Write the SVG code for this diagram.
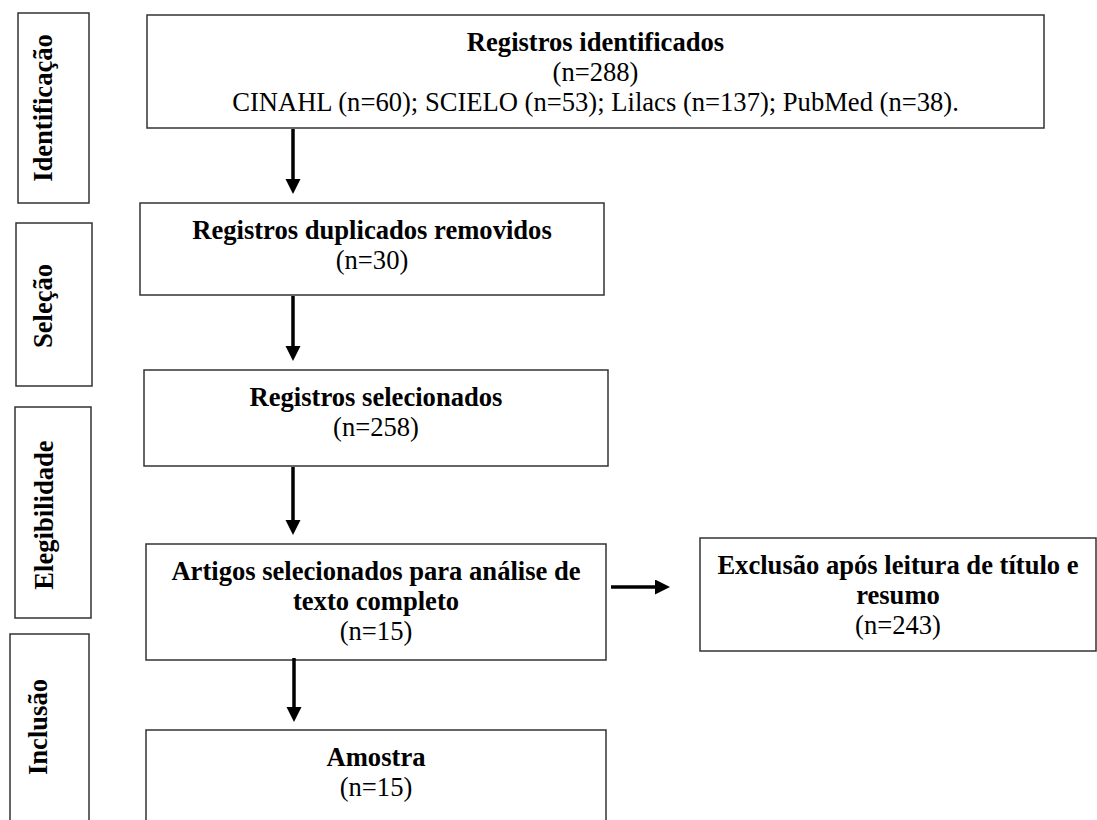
<svg xmlns="http://www.w3.org/2000/svg" width="1097" height="820" viewBox="0 0 1097 820">
<style>
.box{fill:#fff;stroke:#333;stroke-width:1.5}
.t{font-family:"Liberation Serif","Times New Roman",serif;font-size:26.6px;fill:#000;text-anchor:middle}
.b{font-weight:bold}
.c{stroke:#000;stroke-width:3.5;fill:none}
</style>
<defs>
<marker id="ah" markerUnits="userSpaceOnUse" markerWidth="16" markerHeight="16" refX="0" refY="7.5" orient="auto">
<path d="M0,0 L15,7.5 L0,15 Z" fill="#000"/>
</marker>
</defs>
<rect width="1097" height="820" fill="#fff"/>
<g id="phase-identificacao">
<rect class="box" x="18" y="13" width="71" height="190"/>
<text class="t b" transform="translate(52,108) rotate(-90)">Identificação</text>
</g>
<g id="phase-selecao">
<rect class="box" x="16" y="223" width="76" height="163"/>
<text class="t b" transform="translate(52,306) rotate(-90)">Seleção</text>
</g>
<g id="phase-elegibilidade">
<rect class="box" x="15" y="407" width="76" height="211"/>
<text class="t b" transform="translate(53,515) rotate(-90)">Elegibilidade</text>
</g>
<g id="phase-inclusao">
<rect class="box" x="10" y="634" width="79" height="200"/>
<text class="t b" transform="translate(47,727) rotate(-90)">Inclusão</text>
</g>
<g id="n-identificados">
<rect class="box" x="147" y="15" width="897" height="113"/>
<text class="t b" x="595.5" y="51">Registros identificados</text>
<text class="t" x="595.5" y="81">(n=288)</text>
<text class="t" x="595.5" y="111">CINAHL (n=60); SCIELO (n=53); Lilacs (n=137); PubMed (n=38).</text>
</g>
<g id="n-duplicados">
<rect class="box" x="140" y="203" width="464" height="92"/>
<text class="t b" x="372" y="239">Registros duplicados removidos</text>
<text class="t" x="372" y="269">(n=30)</text>
</g>
<g id="n-selecionados">
<rect class="box" x="144" y="370" width="464" height="96"/>
<text class="t b" x="376" y="406">Registros selecionados</text>
<text class="t" x="376" y="436">(n=258)</text>
</g>
<g id="n-artigos">
<rect class="box" x="146" y="544" width="460" height="116"/>
<text class="t b" x="376" y="580">Artigos selecionados para análise de</text>
<text class="t b" x="376" y="610">texto completo</text>
<text class="t" x="376" y="640">(n=15)</text>
</g>
<g id="n-exclusao">
<rect class="box" x="700" y="538" width="396" height="113"/>
<text class="t b" x="898" y="574">Exclusão após leitura de título e</text>
<text class="t b" x="898" y="604">resumo</text>
<text class="t" x="898" y="634">(n=243)</text>
</g>
<g id="n-amostra">
<rect class="box" x="146" y="730" width="460" height="110"/>
<text class="t b" x="376" y="766">Amostra</text>
<text class="t" x="376" y="796">(n=15)</text>
</g>
<g id="connectors">
<line class="c" x1="293" y1="129" x2="293" y2="179" marker-end="url(#ah)"/>
<line class="c" x1="293" y1="296" x2="293" y2="346" marker-end="url(#ah)"/>
<line class="c" x1="293" y1="467" x2="293" y2="520" marker-end="url(#ah)"/>
<line class="c" x1="294" y1="658" x2="294" y2="707" marker-end="url(#ah)"/>
<line class="c" x1="611" y1="587" x2="655" y2="587" marker-end="url(#ah)"/>
</g>
</svg>
